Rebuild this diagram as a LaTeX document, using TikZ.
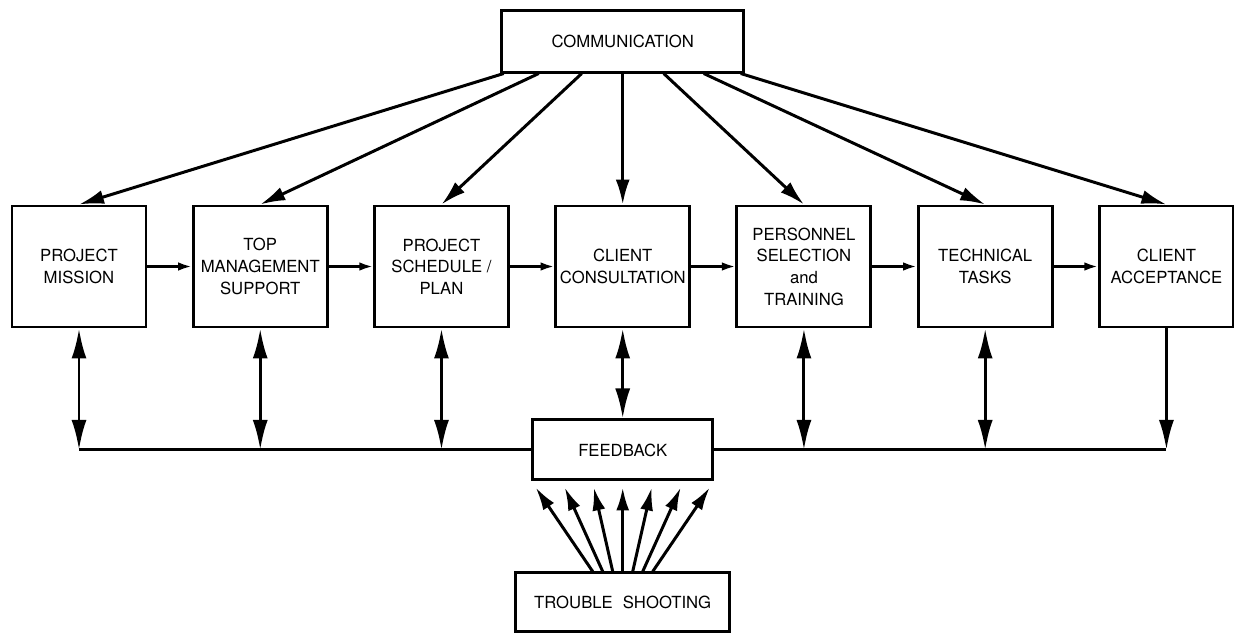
\documentclass[tikz,border=0pt]{standalone}
\usepackage{fontspec}
\setmainfont{TeX Gyre Heros}
\usetikzlibrary{positioning,arrows.meta}
\newcommand{\boxfont}{\fontsize{9.5}{12.3}\selectfont}
\tikzset{
  box/.style={draw, rectangle, align=center, font=\boxfont, line width=1.7pt,
              minimum width=2.68cm, minimum height=2.42cm, inner sep=2pt},
  flatbox/.style={draw, rectangle, align=center, font=\boxfont, line width=1.7pt, inner sep=2pt},
  rule/.style={line width=1.7pt},
  tells/.style={line width=1.7pt, -{Latex[length=0.5cm,width=0.28cm]}},
  next/.style={line width=1.4pt, -{Latex[length=0.27cm,width=0.17cm]}},
  loop/.style={line width=1.7pt, {Latex[length=0.6cm,width=0.3cm]}-{Latex[length=0.6cm,width=0.3cm]}},
  oneway/.style={line width=1.7pt, -{Latex[length=0.6cm,width=0.3cm]}},
  fixes/.style={line width=1.7pt, -{Latex[length=0.46cm,width=0.26cm]}},
}

\begin{document}
\begin{tikzpicture}
\useasboundingbox (0,0) rectangle (24.68,12.72);
\node[box] (mission) at (1.58,7.39) {PROJECT\\MISSION};
\node[box, right=0.885cm of mission] (topmgmt) {TOP\\MANAGEMENT\\SUPPORT};
\node[box, right=0.885cm of topmgmt] (sched) {PROJECT\\SCHEDULE /\\PLAN};
\node[box, right=0.885cm of sched] (consult) {CLIENT\\CONSULTATION};
\node[box, right=0.885cm of consult] (staff) {PERSONNEL\\SELECTION\\and\\TRAINING};
\node[box, right=0.885cm of staff] (tech) {TECHNICAL\\TASKS};
\node[box, right=0.885cm of tech] (accept) {CLIENT\\ACCEPTANCE};
\node[flatbox, minimum width=4.84cm, minimum height=1.24cm, above=2.62cm of consult] (comm) {COMMUNICATION};
\node[flatbox, minimum width=3.6cm, minimum height=1.2cm, below=1.8cm of consult] (feedback) {FEEDBACK};
\node[flatbox, minimum width=4.28cm, minimum height=1.18cm, below=1.8cm of feedback] (trouble) {TROUBLE\hspace{0.6em}SHOOTING};
\foreach \dx/\tgt in {-2.38/mission, -1.68/topmgmt, -0.82/sched, 0/consult, 0.82/staff, 1.62/tech, 2.36/accept}
  \draw[tells] ([xshift=\dx cm]comm.south) -- (\tgt.north);
\foreach \a/\b in {mission/topmgmt, topmgmt/sched, sched/consult, consult/staff, staff/tech, tech/accept}
  \draw[next] (\a) -- (\b);
\draw[rule] (mission.south |- feedback.west) -- (feedback.west);
\draw[rule] (feedback.east) -- (accept.south |- feedback.east);
\foreach \b in {mission, topmgmt, sched, staff, tech}
  \draw[loop] (\b.south) -- (\b.south |- feedback.west);
\draw[loop] (consult) -- (feedback);
\draw[oneway] (accept.south) -- (accept.south |- feedback.east);
\foreach \i in {-3,...,3}
  \draw[fixes] ([xshift=\i*0.2cm]trouble.north) -- ([xshift=\i*0.58cm, yshift=-0.12cm]feedback.south);
\end{tikzpicture}
\end{document}
